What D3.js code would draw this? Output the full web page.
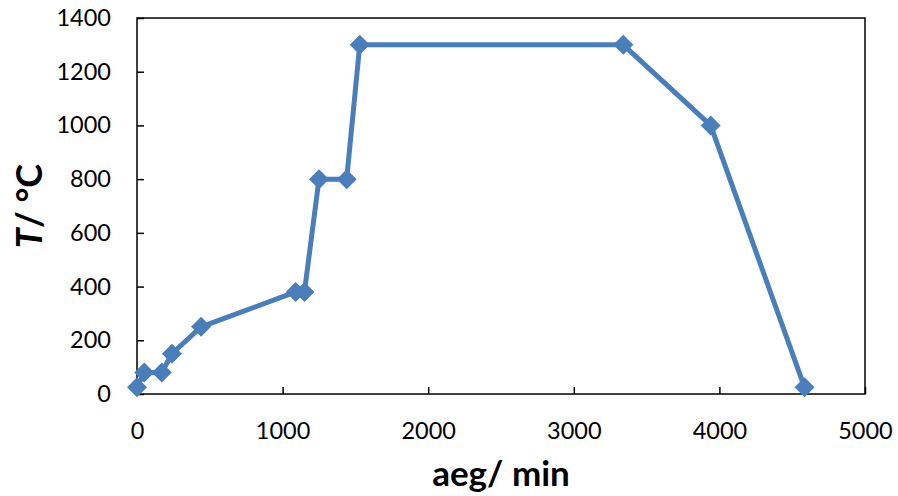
<!DOCTYPE html>
<html>
<head>
<meta charset="utf-8">
<script src="https://cdn.jsdelivr.net/npm/d3@7"></script>
<style>
  body { margin: 0; background: #fff; }
</style>
</head>
<body>
<script>
// values
const timeMin = [0, 50, 170, 240, 440, 1090, 1150, 1250, 1440, 1530, 3340, 3940, 4585];
const tempC = [25, 80, 80, 150, 250, 380, 380, 800, 800, 1300, 1300, 1000, 25];
const xTicks = [0, 1000, 2000, 3000, 4000, 5000];
const yTicks = [0, 200, 400, 600, 800, 1000, 1200, 1400];

const width = 898;
const height = 496;
const marginTop = 18;
const marginRight = 33;
const marginBottom = 102;
const marginLeft = 137;
const color = "#4a7ebb";
const font = "Lato, 'Open Sans', sans-serif";

const data = timeMin.map((t, i) => ({ t, v: tempC[i] }));

const x = d3.scaleLinear([0, 5000], [marginLeft, width - marginRight]);
const y = d3.scaleLinear([0, 1400], [height - marginBottom, marginTop]);

const svg = d3
  .create("svg")
  .attr("width", width)
  .attr("height", height)
  .attr("viewBox", [0, 0, width, height]);

// plot frame
svg
  .append("rect")
  .attr("x", x(0))
  .attr("y", y(1400))
  .attr("width", x(5000) - x(0))
  .attr("height", y(0) - y(1400))
  .attr("fill", "none")
  .attr("stroke", "#000")
  .attr("stroke-width", 1.5);

// axes, ticks pointing inward
svg
  .append("g")
  .attr("transform", `translate(${marginLeft},0)`)
  .call(d3.axisLeft(y).tickValues(yTicks).tickSizeInner(-7).tickSizeOuter(0).tickPadding(26).tickFormat(d3.format("d")))
  .call((g) => g.select(".domain").remove())
  .call((g) => g.selectAll(".tick line").attr("stroke-width", 1.5))
  .call((g) => g.selectAll(".tick text").attr("font-family", font).attr("font-size", 23.5).attr("fill", "#000"));

svg
  .append("g")
  .attr("transform", `translate(0,${height - marginBottom})`)
  .call(d3.axisBottom(x).tickValues(xTicks).tickSizeInner(-7).tickSizeOuter(0).tickPadding(28).tickFormat(d3.format("d")))
  .call((g) => g.select(".domain").remove())
  .call((g) => g.selectAll(".tick line").attr("stroke-width", 1.5))
  .call((g) => g.selectAll(".tick text").attr("font-family", font).attr("font-size", 23.5).attr("fill", "#000"));

// axis titles
svg
  .append("text")
  .attr("x", (x(0) + x(5000)) / 2)
  .attr("y", 486)
  .attr("text-anchor", "middle")
  .attr("font-family", font)
  .attr("font-size", 35)
  .attr("font-weight", "bold")
  .text("aeg/ min");

const yTitle = svg
  .append("text")
  .attr("transform", `translate(42,${(y(0) + y(1400)) / 2}) rotate(-90)`)
  .attr("text-anchor", "middle")
  .attr("font-family", font)
  .attr("font-size", 36)
  .attr("font-weight", "bold");
yTitle.append("tspan").attr("font-style", "italic").text("T");
yTitle.append("tspan").text("/ °C");

// series line
svg
  .append("path")
  .datum(data)
  .attr("fill", "none")
  .attr("stroke", color)
  .attr("stroke-width", 5)
  .attr("stroke-linejoin", "round")
  .attr("d", d3.line((d) => x(d.t), (d) => y(d.v)));

// diamond markers
svg
  .append("g")
  .attr("fill", color)
  .selectAll("path")
  .data(data)
  .join("path")
  .attr("d", d3.symbol(d3.symbolSquare, 200)())
  .attr("transform", (d) => `translate(${x(d.t)},${y(d.v)}) rotate(45)`);

document.body.appendChild(svg.node());
</script>
</body>
</html>
